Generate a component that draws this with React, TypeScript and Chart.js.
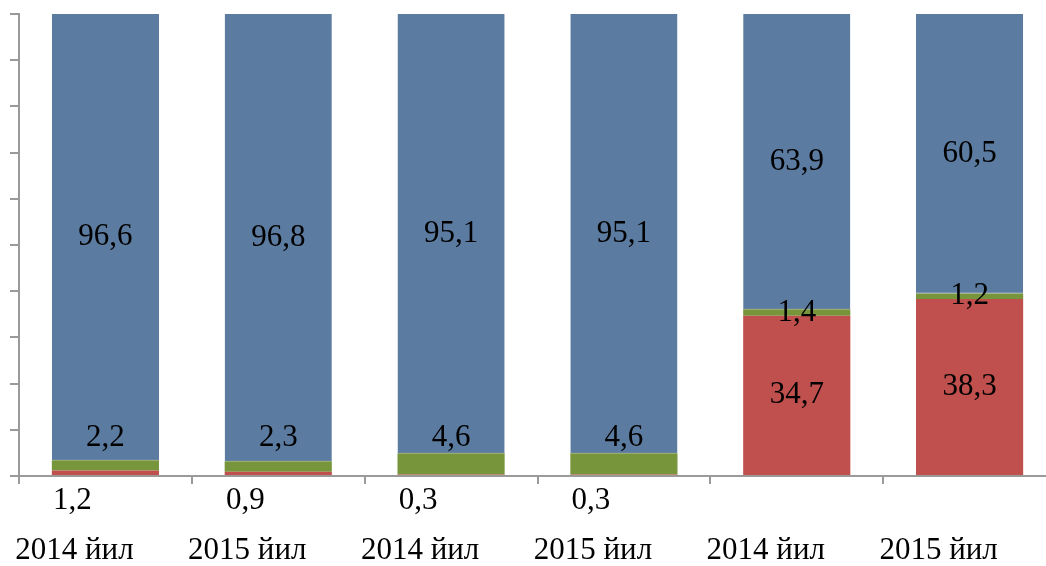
import React, { useEffect, useRef } from "react";
import { Chart, registerables } from "chart.js";

Chart.register(...registerables);

const categories = ["2014 йил", "2015 йил", "2014 йил", "2015 йил", "2014 йил", "2015 йил"];
const redValues = [1.2, 0.9, 0.3, 0.3, 34.7, 38.3];
const greenValues = [2.2, 2.3, 4.6, 4.6, 1.4, 1.2];
const blueValues = [96.6, 96.8, 95.1, 95.1, 63.9, 60.5];

const FONT = "'Liberation Serif', 'Times New Roman', serif";

const labelPlugin = {
  id: "segLabels",
  afterDatasetsDraw(chart: any) {
    const ctx = chart.ctx;
    const xScale = chart.scales.x;
    const axisY = chart.scales.y.getPixelForValue(0);
    ctx.save();
    ctx.font = `31px ${FONT}`;
    ctx.fillStyle = "#000";
    ctx.textAlign = "center";
    ctx.textBaseline = "middle";
    chart.data.datasets.forEach((ds: any, di: number) => {
      const meta = chart.getDatasetMeta(di);
      meta.data.forEach((el: any, i: number) => {
        const v = ds.data[i];
        const top = Math.min(el.y, el.base);
        const bottom = Math.max(el.y, el.base);
        const h = bottom - top;
        let y = (top + bottom) / 2;
        let x = el.x;
        if (di === 0) {
          if (h < 30) {
            y = axisY + 25;
            x = el.x - 33;
          }
        } else if (di === 1) {
          y = Math.min(y, axisY - 38);
        }
        ctx.fillText(String(v).replace(".", ","), x, y);
      });
    });
    chart.data.labels.forEach((lab: string, i: number) => {
      ctx.fillText(lab, xScale.getPixelForValue(i) - 31, axisY + 75);
    });
    ctx.restore();
  },
};

export default function App() {
  const ref = useRef<HTMLCanvasElement>(null);
  useEffect(() => {
    if (!ref.current) return;
    const chart = new Chart(ref.current, {
      type: "bar",
      data: {
        labels: categories,
        datasets: [
          { label: "red", data: redValues, backgroundColor: "#C0504D" },
          { label: "green", data: greenValues, backgroundColor: "#77963C" },
          {
            label: "blue",
            data: blueValues,
            backgroundColor: "#5B7BA0",
            borderColor: "#3E5E86",
            borderWidth: { top: 0, left: 0, right: 0, bottom: 1 },
            borderSkipped: false,
          },
        ],
      },
      options: {
        responsive: false,
        animation: false,
        events: [],
        layout: { padding: { top: 14, left: 10, right: 4, bottom: 82 } },
        plugins: { legend: { display: false }, tooltip: { enabled: false } },
        datasets: { bar: { categoryPercentage: 1, barPercentage: 0.62 } },
        scales: {
          x: {
            stacked: true,
            grid: {
              drawOnChartArea: false,
              drawTicks: true,
              tickLength: 8,
              color: "#9a9a9a",
              lineWidth: 2,
              offset: true,
            },
            border: { color: "#9a9a9a", width: 2 },
            ticks: { display: false },
          },
          y: {
            stacked: true,
            min: 0,
            max: 100,
            grid: {
              drawOnChartArea: false,
              drawTicks: true,
              tickLength: 9,
              color: "#9a9a9a",
              lineWidth: 2,
            },
            border: { color: "#9a9a9a", width: 2 },
            ticks: { display: false, stepSize: 10 },
          },
        },
      },
      plugins: [labelPlugin],
    });
    return () => chart.destroy();
  }, []);
  return (
    <div style={{ position: "fixed", left: 0, top: 0, width: 1046, height: 566, overflow: "hidden", background: "#fff" }}>
      <canvas ref={ref} width={1060} height={566} style={{ width: 1060, height: 566, display: "block" }} />
    </div>
  );
}
